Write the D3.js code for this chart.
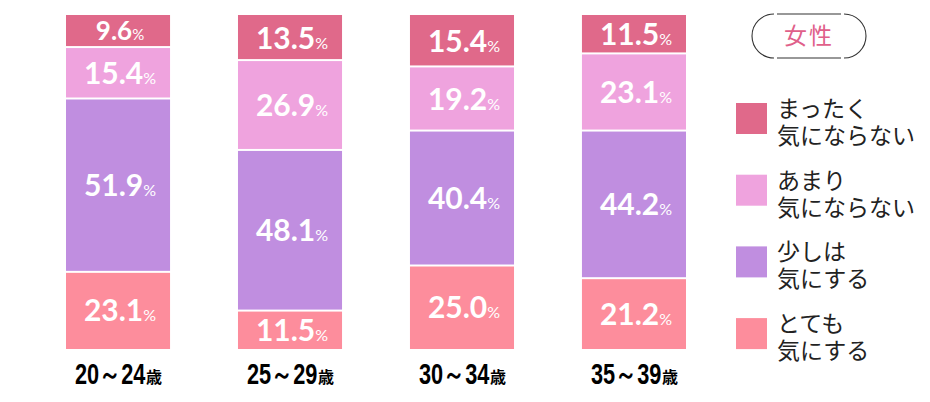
<!DOCTYPE html>
<html><head><meta charset="utf-8">
<script src="https://cdn.jsdelivr.net/npm/d3@7"></script>
<style>
html,body{margin:0;padding:0;background:#fff;}
svg{display:block;}
</style></head>
<body>
<svg id="chart" width="930" height="402"></svg>
<script>
const categories = ["20～24", "25～29", "30～34", "35～39"];
const seriesNames = ["とても気にする", "少しは気にする", "あまり気にならない", "まったく気にならない"];
const totemo   = [23.1, 11.5, 25.0, 21.2];
const sukoshi  = [51.9, 48.1, 40.4, 44.2];
const amari    = [15.4, 26.9, 19.2, 23.1];
const mattaku  = [9.6, 13.5, 15.4, 11.5];
const legendLines = [["まったく", "気にならない"], ["あまり", "気にならない"], ["少しは", "気にする"], ["とても", "気にする"]];
const legendTitle = "女性";
const ageUnit = "歳";
const yTicks = [0, 100];

const colors = ["#fd8d9c", "#c08ee0", "#efa3de", "#e0698a"];
const seriesValues = [totemo, sukoshi, amari, mattaku];

const svg = d3.select("#chart");
const x = d3.scaleBand().domain(categories).range([66, 686]).paddingInner(0.395).paddingOuter(0);
const y = d3.scaleLinear().domain(yTicks).range([349, 15]);

const rows = categories.map((c, i) => {
  const r = {cat: c};
  seriesNames.forEach((s, k) => r[s] = seriesValues[k][i]);
  return r;
});
const stack = d3.stack().keys(seriesNames)(rows);

const g = svg.append("g");
stack.forEach((layer, k) => {
  const lg = g.append("g");
  lg.selectAll("rect").data(layer).join("rect")
    .attr("x", d => x(d.data.cat))
    .attr("width", x.bandwidth())
    .attr("y", d => y(d[1]) + (k === seriesNames.length - 1 ? 0 : 1))
    .attr("height", d => y(d[0]) - y(d[1]) - (k === seriesNames.length - 1 ? 1 : 2) + (k === 0 ? 1 : 0))
    .attr("fill", colors[k]);
  lg.selectAll("text").data(layer).join("text")
    .attr("x", d => x(d.data.cat) + x.bandwidth() / 2 + 2)
    .attr("y", d => {
      const mid = (y(d[0]) + y(d[1])) / 2;
      const h = y(d[0]) - y(d[1]);
      return mid + (h < 35 ? 9 : 11);
    })
    .attr("text-anchor", "middle")
    .attr("fill", "#fff")
    .attr("font-family", "Lato, 'Open Sans', sans-serif")
    .attr("font-weight", 700)
    .style("font-size", d => (y(d[0]) - y(d[1]) < 35 ? "26px" : "30px"))
    .each(function(d) {
      const t = d3.select(this);
      const v = d[1] - d[0];
      t.append("tspan").text(v.toFixed(1));
      t.append("tspan").attr("font-size", (y(d[0]) - y(d[1]) < 35) ? "15px" : "16px").attr("font-weight", 400).text("%");
    });
});

// x axis labels
const xl = svg.append("g");
categories.forEach(c => {
  const cx = x(c) + x.bandwidth() / 2;
  xl.append("g")
    .attr("transform", `translate(${cx - 43},384) scale(0.75,1)`)
    .append("text")
    .attr("x", 0).attr("y", 0)
    .attr("fill", "#000")
    .attr("font-family", "'Liberation Sans', Arial, sans-serif")
    .attr("font-size", "29px").attr("font-weight", 700)
    .text(c);
  xl.append("text")
    .attr("x", cx + 28)
    .attr("y", 383)
    .attr("fill", "#000")
    .attr("font-family", "'Noto Sans CJK JP', sans-serif")
    .attr("font-size", "16px").attr("font-weight", 700)
    .text(ageUnit);
});

// legend pill
const pill = svg.append("g").attr("fill", "none").attr("stroke", "#333").attr("stroke-width", 1.1);
const px0 = 752, px1 = 866, py0 = 14, py1 = 58, r = 22;
pill.append("path").attr("d", `M${px0 + r},${py0} A${r},${r} 0 0 0 ${px0 + r},${py1}`);
pill.append("path").attr("d", `M${px1 - r},${py0} A${r},${r} 0 0 1 ${px1 - r},${py1}`);
pill.append("line").attr("x1", px0 + r + 3).attr("x2", px1 - r - 3).attr("y1", py0).attr("y2", py0);
pill.append("line").attr("x1", px0 + r + 3).attr("x2", px1 - r - 3).attr("y1", py1).attr("y2", py1);
svg.append("text").attr("x", (px0 + px1) / 2).attr("y", 44)
  .attr("text-anchor", "middle").attr("fill", "#e0608a")
  .attr("font-family", "'Noto Sans CJK JP', sans-serif").attr("font-size", "23px")
  .attr("letter-spacing", "2px")
  .text(legendTitle);

// legend items
const legendColors = colors.slice().reverse();
const lgd = svg.append("g");
legendLines.forEach((lines, i) => {
  const top = 103 + i * 71.7;
  lgd.append("rect").attr("x", 736).attr("y", top).attr("width", 31).attr("height", 31).attr("fill", legendColors[i]);
  lines.forEach((ln, j) => {
    lgd.append("text").attr("x", 777).attr("y", top + 14 + j * 27)
      .attr("fill", "#222")
      .attr("font-family", "'Liberation Sans', 'Noto Sans CJK JP', sans-serif").attr("font-size", "23px")
      .text(ln);
  });
});
</script>
</body></html>
